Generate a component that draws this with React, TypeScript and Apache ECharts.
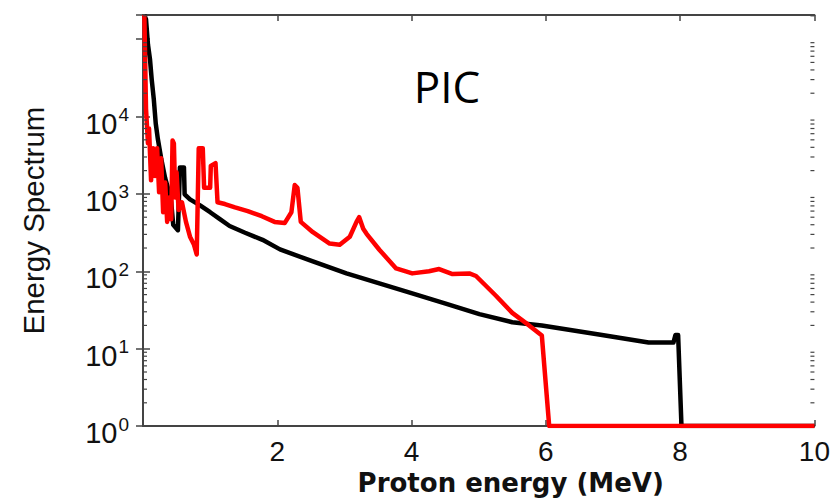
import React, { useEffect, useRef } from "react";
import * as echarts from "echarts";

// Energy (MeV) / spectrum pairs for the two simulated proton spectra
const blackEnergy = [0.02, 0.045, 0.074, 0.104, 0.13, 0.16, 0.19, 0.22, 0.27, 0.33, 0.39, 0.42, 0.45, 0.52, 0.55, 0.61, 0.62, 0.7, 0.85, 1.0, 1.14, 1.29, 1.52, 1.78, 2.04, 2.53, 3.03, 3.52, 4.01, 4.52, 5.01, 5.5, 5.94, 6.79, 7.53, 7.9, 7.93, 7.97, 8.02, 10];
const blackValue = [205000, 180000, 85000, 55000, 30000, 17000, 8100, 5200, 2900, 1600, 1050, 780, 400, 340, 2200, 2200, 990, 850, 710, 580, 475, 385, 315, 255, 192, 134, 94, 70, 52, 38, 28, 22, 20, 15.3, 12, 12, 15, 15, 1, 1];

const redEnergy = [0.02, 0.045, 0.074, 0.09, 0.12, 0.15, 0.18, 0.21, 0.24, 0.27, 0.3, 0.33, 0.36, 0.39, 0.42, 0.44, 0.46, 0.48, 0.5, 0.53, 0.58, 0.64, 0.7, 0.76, 0.8, 0.83, 0.89, 0.91, 1.0, 1.01, 1.08, 1.11, 1.22, 1.37, 1.56, 1.77, 1.96, 2.11, 2.21, 2.26, 2.3, 2.35, 2.53, 2.78, 2.93, 3.08, 3.18, 3.22, 3.28, 3.33, 3.52, 3.77, 4.01, 4.26, 4.41, 4.61, 4.86, 4.96, 5.26, 5.5, 5.75, 5.94, 6.05, 10];
const redValue = [205000, 12600, 4500, 7000, 1500, 3900, 1700, 3900, 1050, 2900, 580, 1400, 435, 900, 470, 4900, 4500, 900, 1900, 620, 780, 435, 280, 220, 165, 3900, 3900, 1200, 1200, 2300, 2500, 780, 740, 670, 600, 515, 435, 420, 580, 1300, 1200, 435, 320, 228, 220, 280, 435, 500, 355, 305, 190, 109, 94, 100, 107, 92, 94, 87, 48, 29, 20, 14.8, 1, 1];

// Axis ranges and labels
const xMin = 0;
const xMax = 10;
const xInterval = 2;
const yMin = 1;
const yMax = 205000;
const lastLabelledDecade = 4;
const minorMultipliers = [2, 3, 4, 5, 6, 7, 8, 9];

const xTitle = "Proton energy (MeV)";
const yTitle = "Energy Spectrum";
const panelTag = "PIC";

const pairs = (xs: number[], ys: number[]) => xs.map((x, i) => [x, ys[i]]);

// minor tick positions of the logarithmic spectrum axis
const minorTicks: number[][] = [];
for (let k = 0; Math.pow(10, k) < yMax; k++) {
  for (const m of minorMultipliers) {
    const v = m * Math.pow(10, k);
    if (v < yMax) minorTicks.push([xMin, v]);
  }
}

const axisColor = "#444";

export default function App() {
  const ref = useRef<HTMLDivElement>(null);

  useEffect(() => {
    if (!ref.current) return;
    const chart = echarts.init(ref.current, undefined, { renderer: "svg" });

    const decadeLabel = (v: number) => {
      const e = Math.log10(v);
      const r = Math.round(e);
      if (Math.abs(e - r) > 1e-6 || r > lastLabelledDecade) return "";
      return `{b|10}{s|${r}}`;
    };

    const axisLine = { show: true, lineStyle: { color: axisColor, width: 2 } };

    chart.setOption({
      animation: false,
      backgroundColor: "#fff",
      grid: { left: 143, right: 17, top: 15, bottom: 69 },
      xAxis: [
        {
          type: "value",
          min: xMin,
          max: xMax,
          interval: xInterval,
          axisLine,
          axisTick: { inside: true, length: 6, lineStyle: { color: axisColor, width: 1.5 } },
          splitLine: { show: false },
          axisLabel: {
            margin: 11,
            color: "#111",
            fontFamily: "Liberation Sans",
            fontSize: 28,
            formatter: (v: number) => (v === 0 ? "" : String(v)),
          },
          name: xTitle,
          nameLocation: "middle",
          nameGap: 43,
          nameTextStyle: {
            color: "#111",
            fontFamily: "DejaVu Sans",
            fontWeight: "bold",
            fontSize: 26,
            padding: [0, 0, 0, 64],
          },
        },
        {
          type: "value",
          position: "top",
          min: xMin,
          max: xMax,
          interval: xInterval,
          axisLine,
          axisTick: { inside: true, length: 6, lineStyle: { color: axisColor, width: 1.5 } },
          axisLabel: { show: false },
          splitLine: { show: false },
        },
      ],
      yAxis: [
        {
          type: "log",
          logBase: 10,
          min: yMin,
          max: yMax,
          axisLine,
          axisTick: { inside: true, length: 7, lineStyle: { color: axisColor, width: 1.5 } },
          splitLine: { show: false },
          axisLabel: {
            margin: 14,
            showMaxLabel: false,
            formatter: decadeLabel,
            rich: {
              b: { fontFamily: "Liberation Sans", fontSize: 29, color: "#111", padding: [14, 0, 0, 0] },
              s: { fontFamily: "Liberation Sans", fontSize: 19, color: "#111", padding: [0, 0, 4, 1] },
            },
          },
          name: yTitle,
          nameLocation: "middle",
          nameGap: 95,
          nameTextStyle: { color: "#111", fontFamily: "Liberation Sans", fontSize: 29.5 },
        },
        {
          type: "log",
          logBase: 10,
          position: "right",
          min: yMin,
          max: yMax,
          axisLine,
          axisTick: { inside: true, length: 7, lineStyle: { color: axisColor, width: 1.5 } },
          axisLabel: { show: false },
          splitLine: { show: false },
        },
      ],
      graphic: [
        {
          type: "text",
          x: 447,
          y: 86,
          style: {
            text: panelTag,
            fill: "#000",
            font: "44px 'Open Sans'",
            align: "center",
            verticalAlign: "middle",
          },
        },
      ],
      series: [
        {
          type: "custom",
          silent: true,
          xAxisIndex: 0,
          yAxisIndex: 0,
          data: minorTicks,
          z: 5,
          renderItem: (params: any, api: any) => {
            const left = api.coord([xMin, api.value(1)]);
            const right = api.coord([xMax, api.value(1)]);
            const style = { stroke: axisColor, lineWidth: 1.2 };
            return {
              type: "group",
              children: [
                { type: "line", shape: { x1: left[0], y1: left[1], x2: left[0] + 4, y2: left[1] }, style },
                { type: "line", shape: { x1: right[0], y1: right[1], x2: right[0] - 4, y2: right[1] }, style },
              ],
            };
          },
        },
        {
          type: "line",
          name: "black",
          data: pairs(blackEnergy, blackValue),
          showSymbol: false,
          symbol: "none",
          lineStyle: { color: "#000", width: 4.5, join: "round" },
          z: 3,
        },
        {
          type: "line",
          name: "red",
          data: pairs(redEnergy, redValue),
          showSymbol: false,
          symbol: "none",
          lineStyle: { color: "#ff0000", width: 4.5, join: "round" },
          z: 4,
        },
      ],
    });

    return () => chart.dispose();
  }, []);

  return <div ref={ref} style={{ width: 833, height: 501, position: "absolute", left: 0, top: 0 }} />;
}
